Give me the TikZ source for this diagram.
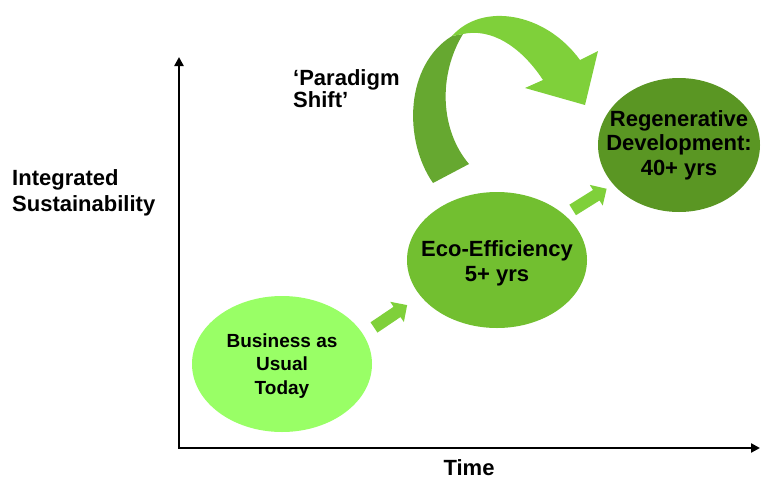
\documentclass[tikz,border=0pt]{standalone}
\usepackage{fontspec}
\setmainfont{Liberation Sans}
\usetikzlibrary{arrows.meta,shapes.arrows,positioning}

\definecolor{usualgreen}{RGB}{153,255,102}
\definecolor{ecogreen}{RGB}{114,191,48}
\definecolor{regengreen}{RGB}{90,150,35}
\definecolor{stepgreen}{RGB}{127,208,58}
\definecolor{foldgreen}{RGB}{102,168,48}

\tikzset{
  axis/.style={line width=2.6pt, {Triangle[length=9pt,width=9pt]}-{Triangle[length=9pt,width=9pt]}},
  bubble/.style={align=center, text=black, inner sep=0pt, font=\bfseries\fontsize{22}{25}\selectfont},
  caption/.style={align=left, inner sep=0pt, font=\bfseries\fontsize{22}{26}\selectfont},
  stepper/.style={single arrow, fill=stepgreen, inner xsep=0pt, inner ysep=6pt,
    minimum height=40pt, minimum width=24pt, single arrow head extend=6pt}
}

\begin{document}
\begin{tikzpicture}[x=1pt,y=-1pt]
\useasboundingbox (0,0) rectangle (762,479);

% axes
\coordinate (ytop) at (179,57);
\coordinate (origin) at (179,448);
\coordinate (xend) at (760,448);
\draw[axis] (ytop) -- (origin) -- (xend);

\node[caption, anchor=west] (ylabel) at (12,193) {Integrated\\Sustainability};
\node[bubble] (xlabel) at (469,468) {Time};

% stages
\fill[usualgreen] (282,364) ellipse [x radius=90, y radius=68]
  node[bubble, font=\bfseries\fontsize{19}{23.5}\selectfont, yshift=-2pt] (usual) {Business as\\Usual\\Today};
\fill[ecogreen] (497,260) ellipse [x radius=90, y radius=68]
  node[bubble, yshift=-3pt] (eco) {Eco-Efficiency\\5+ yrs};
\fill[regengreen] (679,145) ellipse [x radius=81, y radius=67]
  node[bubble, font=\bfseries\fontsize{22}{24.5}\selectfont] (regen) {Regenerative\\Development:\\40+ yrs};

% small steps between stages
\node[stepper, rotate=34] (step1) at (388,318) {};
\node[stepper, rotate=32] (step2) at (587,201) {};

% the big curved arrow, back side then front side
\fill[foldgreen] (433,183) .. controls (403,140) and (405,65) .. (452,36)
  -- (463,34) .. controls (438,75) and (440,130) .. (469,164) -- cycle;
\fill[stepgreen] (452,36) .. controls (482,2) and (545,12) .. (580,60)
  -- (598,51) -- (585,105) -- (525,88) -- (543,80)
  .. controls (520,45) and (490,28) .. (463,34) -- cycle;
\node[caption, font=\bfseries\fontsize{22}{22}\selectfont, anchor=west] (shift) at (293,88.5) {‘Paradigm\\Shift’};
\end{tikzpicture}
\end{document}
